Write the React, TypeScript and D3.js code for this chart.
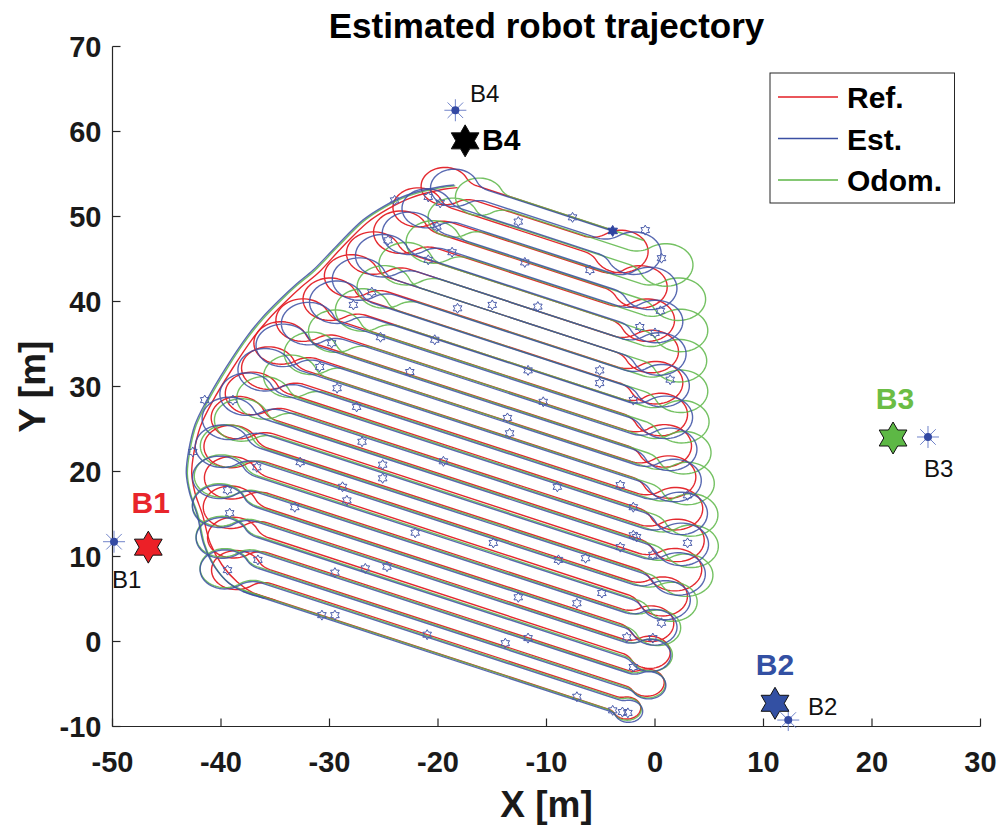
import React from 'react';
import * as d3 from 'd3';

const WIDTH = 999;
const HEIGHT = 825;
const PLOT = { left: 112.5, right: 980.5, top: 46.5, bottom: 726.5 };
const FONT = '"Liberation Sans", Arial, Helvetica, sans-serif';

const xTickValues = [-50, -40, -30, -20, -10, 0, 10, 20, 30];
const yTickValues = [-10, 0, 10, 20, 30, 40, 50, 60, 70];

const seriesNames = ['Ref.', 'Est.', 'Odom.'];
const seriesColors = ['#e31e24', '#3b4fa3', '#5cb646'];

// common heading of the straight passes (dy/dx)
const passSlope = -0.417;

// y of each pass at x = -20, and x where each pass ends on the left / right side
const refIntercept = [-1.4, 0.4, 2.0, 3.9, 5.7, 7.4, 9.1, 10.9, 12.8, 14.5, 16.2, 18.1, 19.8, 21.5, 23.4, 25.1, 26.8, 28.6, 30.3, 32.1, 33.9, 35.6, 37.4, 39.2, 40.9, 42.7, 44.5, 46.2, 48.0, 49.8, 51.5, 53.3, 55.1];
const refLeftX = [-37.0, -35.3, -35.5, -35.6, -35.6, -35.7, -35.7, -35.6, -35.7, -35.7, -35.6, -35.1, -34.9, -33.8, -33.7, -32.3, -32.1, -31.1, -31.0, -29.1, -29.0, -26.6, -26.5, -24.6, -24.5, -22.6, -22.5, -20.1, -20.0, -18.8, -18.7, -16.5, -16.4];
const refRightX = [-4.3, -3.5, -2.7, -2.5, -3.0, -2.9, -3.2, -3.0, -2.5, -2.3, -1.6, -1.5, -1.4, -1.4, -1.5, -1.6, -2.1, -2.2, -2.5, -2.6, -2.9, -3.0, -3.3, -3.4, -3.7, -3.8, -4.1, -4.2, -4.7, -4.9, -6.5, -6.6, -4.3];

const estIntercept = [-1.6, 0.1, 1.7, 3.6, 5.3, 7.1, 8.8, 10.6, 12.4, 14.2, 15.9, 17.7, 19.5, 21.2, 23.1, 24.8, 26.6, 28.4, 30.1, 31.9, 33.7, 35.5, 37.3, 39.1, 40.9, 42.7, 44.6, 46.4, 48.2, 50.0, 51.8, 53.6, 55.0];
const estLeftX = [-38.0, -36.3, -36.6, -36.5, -36.7, -36.7, -36.7, -36.6, -36.8, -36.5, -36.4, -35.9, -35.8, -34.3, -34.2, -32.6, -32.5, -30.9, -30.8, -28.6, -28.5, -26.0, -25.9, -23.9, -23.8, -21.8, -21.7, -19.3, -19.2, -18.0, -17.9, -15.5, -15.4];
const estRightX = [-4.2, -3.3, -2.5, -2.4, -2.9, -2.8, -2.9, -2.7, -2.2, -2.0, -1.3, -1.2, -1.0, -1.0, -1.1, -1.1, -1.6, -1.7, -2.0, -2.1, -2.4, -2.5, -2.7, -2.8, -3.0, -3.1, -3.3, -3.4, -3.8, -4.0, -5.3, -5.4, -3.9];

const odomIntercept = [-1.45, 0.25, 1.85, 3.75, 5.45, 7.25, 8.95, 10.75, 12.55, 14.35, 16.05, 17.85, 19.65, 21.35, 23.25, 24.95, 26.75, 28.55, 30.25, 32.05, 33.85, 35.6, 37.35, 39.15, 40.9, 42.7, 44.5, 46.3, 48.1, 49.9, 51.7, 53.4, 55.1];
const odomLeftX = [-38.0, -36.3, -36.6, -36.5, -36.7, -36.7, -36.7, -36.5, -36.6, -36.1, -35.9, -34.9, -34.6, -32.8, -32.6, -30.3, -30.1, -28.3, -28.2, -26.1, -26.0, -23.6, -23.5, -21.6, -21.5, -19.6, -19.5, -17.1, -17.0, -15.6, -15.5, -13.3, -13.2];
const odomRightX = [-4.3, -3.5, -2.6, -2.4, -2.8, -2.6, -2.6, -2.3, -1.6, -1.3, -0.6, -0.5, -0.1, -0.1, -0.1, -0.2, -0.4, -0.5, -0.7, -0.8, -0.9, -1.0, -1.0, -1.1, -1.1, -1.2, -1.0, -1.1, -1.2, -1.3, -2.4, -2.5, -1.0];

// loop radii of the turns on the left (pairs 1-2, 3-4, ...) and right (pairs 0-1, 2-3, ...)
const leftTurnRadius = [2.3, 2.4, 2.5, 2.5, 2.5, 2.5, 2.5, 2.5, 2.5, 2.5, 2.5, 2.5, 2.5, 2.5, 2.3, 2.2];
const rightTurnRadius = [1.3, 1.6, 1.9, 2.1, 2.3, 2.5, 2.5, 2.5, 2.5, 2.5, 2.5, 2.5, 2.5, 2.5, 2.5, 2.5];
const swerveRatio = 0.85;

// long run along the left edge of the area (top to bottom)
const refReturnX = [-18.2, -19.5, -22.5, -24.6, -26.5, -28.9, -31.0, -32.6, -34.1, -35.7, -37.1, -39.0, -40.8, -41.9, -42.5, -42.7, -42.4, -41.7, -41.0, -39.9, -38.5];
const refReturnY = [53.4, 53.2, 52.2, 50.9, 49.3, 46.3, 43.4, 41.7, 39.9, 37.8, 35.6, 32.0, 28.2, 25.3, 22.2, 19.8, 17.5, 14.9, 11.6, 9.0, 7.0];
const estReturnX = [-18.5, -19.8, -22.9, -25.0, -26.9, -29.3, -31.5, -33.1, -34.6, -36.2, -37.6, -39.5, -41.3, -42.4, -43.0, -43.2, -42.9, -42.2, -41.6, -40.6, -39.3];
const estReturnY = [53.7, 53.5, 52.5, 51.2, 49.6, 46.6, 43.7, 42.0, 40.2, 38.1, 35.9, 32.3, 28.4, 25.5, 22.3, 19.8, 17.5, 14.9, 11.5, 8.8, 6.9];
const odomReturnX = [-18.4, -19.7, -22.8, -24.9, -26.8, -29.2, -31.4, -33.0, -34.5, -36.1, -37.5, -39.4, -41.2, -42.3, -42.9, -43.1, -42.8, -42.1, -41.5, -40.5, -39.2];
const odomReturnY = [53.6, 53.4, 52.4, 51.1, 49.5, 46.5, 43.6, 41.9, 40.1, 38.0, 35.8, 32.2, 28.3, 25.4, 22.2, 19.7, 17.4, 14.8, 11.4, 8.7, 6.8];

// small hexagram markers along the estimated trajectory
const markerX = [-24.0, -20.9, -19.8, -20.1, -24.6, -20.9, -18.7, -12.6, -7.6, -0.9, 0.6, -12.0, -6.0, -26.1, -27.8, -18.2, -15.0, -10.8, 0.5, -1.4, 0.0, -29.8, -25.3, -20.3, -30.9, -22.6, -11.7, -5.1, -5.1, 1.4, -29.3, -27.5, -10.3, -13.6, -13.4, -2.0, -41.5, -38.9, -42.6, -27.0, -32.7, -25.1, -19.5, -25.1, -36.7, -28.8, -28.4, -39.4, -39.2, -33.2, -22.1, -36.6, -39.4, -26.7, -24.7, -29.5, -30.7, -29.5, -21.0, -9.0, -3.2, -2.0, -1.7, 3.0, 3.0, -3.2, -14.9, -8.9, -6.4, -0.2, -4.9, -7.2, -12.6, -2.6, -0.2, 0.6, -11.7, -13.8, -2.0, -3.9, -3.0, -2.5, -7.2, -2.0];
const markerY = [51.9, 52.3, 51.6, 48.8, 47.2, 44.9, 45.8, 49.4, 49.9, 48.4, 45.1, 44.6, 43.7, 41.1, 39.6, 39.2, 39.6, 39.4, 38.9, 37.0, 36.3, 35.1, 35.8, 35.5, 32.3, 31.7, 31.9, 31.9, 30.4, 30.8, 29.8, 27.6, 28.2, 26.3, 24.5, 28.4, 28.4, 28.4, 22.3, 23.5, 21.1, 20.8, 21.2, 19.2, 20.5, 18.2, 16.6, 17.8, 15.1, 15.8, 12.8, 9.6, 8.4, 8.6, 8.8, 8.1, 3.1, 3.1, 0.8, 18.2, 18.4, 15.8, 12.3, 17.2, 11.6, 11.1, 11.6, 9.6, 9.8, 10.2, 5.7, 4.5, 5.2, 0.5, 0.4, 2.2, 0.4, -0.2, -3.0, -8.1, -8.3, -8.4, -6.5, 12.5];

const endPointX = -3.9;
const endPointY = 48.3;

// beacons: true position (hexagram) and estimated position (asterisk)
const beaconNames = ['B1', 'B2', 'B3', 'B4'];
const beaconTrueX = [-46.7, 11.06, 21.94, -17.5];
const beaconTrueY = [11.1, -7.27, 23.94, 58.9];
const beaconEstX = [-49.86, 12.28, 25.16, -18.4];
const beaconEstY = [11.74, -9.24, 24.06, 62.5];
const beaconColors = ['#ec2027', '#3350a3', '#5db845', '#000000'];
const beaconLabelColors = ['#e8252b', '#3350a3', '#6bbd45', '#000000'];

type Pt = [number, number];

function turnPoints(E: Pt, S: Pt, d: Pt, R: number, r1: number): Pt[] {
  let n: Pt = [-d[1], d[0]];
  const rel: Pt = [S[0] - E[0], S[1] - E[1]];
  if (rel[0] * n[0] + rel[1] * n[1] < 0) n = [-n[0], -n[1]];
  const uS = rel[0] * d[0] + rel[1] * d[1];
  const vS = rel[0] * n[0] + rel[1] * n[1];
  const toW = (u: number, v: number): Pt => [E[0] + u * d[0] + v * n[0], E[1] + u * d[1] + v * n[1]];
  const A1: Pt = [0, -r1];
  const A2: Pt = [uS, vS + r1];
  const dx = A2[0] - A1[0];
  const dy = A2[1] - A1[1];
  const D = Math.hypot(dx, dy);
  const L = R + r1;
  const h = Math.sqrt(Math.max(L * L - (D * D) / 4, 0));
  let px = dy / D;
  let py = -dx / D;
  if (px < 0) { px = -px; py = -py; }
  const C: Pt = [(A1[0] + A2[0]) / 2 + h * px, (A1[1] + A2[1]) / 2 + h * py];
  const out: Pt[] = [];
  const th1 = Math.atan2(C[1] - A1[1], C[0] - A1[0]);
  const n1 = 12;
  for (let i = 1; i <= n1; i++) {
    const t = Math.PI / 2 + ((th1 - Math.PI / 2) * i) / n1;
    out.push(toW(A1[0] + r1 * Math.cos(t), A1[1] + r1 * Math.sin(t)));
  }
  const ph1 = Math.atan2(A1[1] - C[1], A1[0] - C[0]);
  let ph2 = Math.atan2(A2[1] - C[1], A2[0] - C[0]);
  if (ph2 < ph1) ph2 += 2 * Math.PI;
  const n2 = 44;
  for (let i = 1; i <= n2; i++) {
    const t = ph1 + ((ph2 - ph1) * i) / n2;
    out.push(toW(C[0] + R * Math.cos(t), C[1] + R * Math.sin(t)));
  }
  const th2 = Math.atan2(C[1] - A2[1], C[0] - A2[0]);
  for (let i = 1; i <= n1; i++) {
    const t = th2 + ((-Math.PI / 2 - th2) * i) / n1;
    out.push(toW(A2[0] + r1 * Math.cos(t), A2[1] + r1 * Math.sin(t)));
  }
  return out;
}

function buildTrajectory(intercept: number[], leftX: number[], rightX: number[]): Pt[] {
  const norm = Math.sqrt(1 + passSlope * passSlope);
  const toRight: Pt = [1 / norm, passSlope / norm];
  const toLeft: Pt = [-toRight[0], -toRight[1]];
  const at = (k: number, xv: number): Pt => [xv, intercept[k] + passSlope * (xv + 20)];
  const pts: Pt[] = [];
  const n = intercept.length;
  for (let k = 0; k < n; k++) {
    const goingRight = k % 2 === 0;
    const start = goingRight ? at(k, leftX[k]) : at(k, rightX[k]);
    const end = goingRight ? at(k, rightX[k]) : at(k, leftX[k]);
    if (k === 0) pts.push(start);
    pts.push(end);
    if (k < n - 1) {
      const nextStart = goingRight ? at(k + 1, rightX[k + 1]) : at(k + 1, leftX[k + 1]);
      const R = goingRight ? rightTurnRadius[k / 2] : leftTurnRadius[(k - 1) / 2];
      pts.push(...turnPoints(end, nextStart, goingRight ? toRight : toLeft, R, R * swerveRatio));
    }
  }
  return pts;
}

function hexagram(cx: number, cy: number, r: number): string {
  const pts: string[] = [];
  for (let i = 0; i < 12; i++) {
    const a = -Math.PI / 2 + (i * Math.PI) / 6;
    const rad = i % 2 === 0 ? r : r / Math.sqrt(3);
    pts.push(`${(cx + rad * Math.cos(a)).toFixed(2)},${(cy + rad * Math.sin(a)).toFixed(2)}`);
  }
  return 'M' + pts.join('L') + 'Z';
}

export default function App() {
  const x = d3.scaleLinear().domain([-50, 30]).range([PLOT.left, PLOT.right]);
  const y = d3.scaleLinear().domain([-10, 70]).range([PLOT.bottom, PLOT.top]);

  const series = [
    { intercept: refIntercept, leftX: refLeftX, rightX: refRightX, retX: refReturnX, retY: refReturnY },
    { intercept: estIntercept, leftX: estLeftX, rightX: estRightX, retX: estReturnX, retY: estReturnY },
    { intercept: odomIntercept, leftX: odomLeftX, rightX: odomRightX, retX: odomReturnX, retY: odomReturnY },
  ];

  const linear = d3.line<Pt>().x((p) => x(p[0])).y((p) => y(p[1]));
  const smooth = d3.line<Pt>().x((p) => x(p[0])).y((p) => y(p[1])).curve(d3.curveCatmullRom.alpha(0.5));

  const paths = series.map((s) => {
    const traj = buildTrajectory(s.intercept, s.leftX, s.rightX);
    const ret: Pt[] = s.retX.map((v, i) => [v, s.retY[i]] as Pt);
    const x0 = s.leftX[0];
    ret.push([x0, s.intercept[0] + passSlope * (x0 + 20)]);
    ret.push([x0 + 2, s.intercept[0] + passSlope * (x0 + 22)]);
    return { traj: linear(traj) || '', ret: smooth(ret) || '' };
  });

  const drawOrder = [0, 2, 1];

  return (
    <svg width={WIDTH} height={HEIGHT} style={{ position: 'absolute', left: 0, top: 0, background: '#fff' }} fontFamily={FONT}>
      <rect x={0} y={0} width={WIDTH} height={HEIGHT} fill="#fff" />
      {drawOrder.map((i) => (
        <g key={i} fill="none" stroke={seriesColors[i]} strokeWidth={1.4} strokeOpacity={i === 0 ? 0.95 : 0.85} strokeLinejoin="round">
          <path d={paths[i].ret} />
          <path d={paths[i].traj} />
        </g>
      ))}
      <g fill="none" stroke="#4a5cab" strokeWidth={1}>
        {markerX.map((mx, i) => (
          <path key={i} d={hexagram(x(mx), y(markerY[i]), 5)} />
        ))}
      </g>
      <path d={hexagram(x(endPointX), y(endPointY), 5.5)} fill="#2f43a0" stroke="#2f43a0" strokeWidth={1} />

      <g stroke="#262626" strokeWidth={1.2}>
        <line x1={PLOT.left} y1={PLOT.bottom} x2={PLOT.right} y2={PLOT.bottom} />
        <line x1={PLOT.left} y1={PLOT.top} x2={PLOT.left} y2={PLOT.bottom} />
        {xTickValues.map((t) => (
          <line key={'xt' + t} x1={x(t)} x2={x(t)} y1={PLOT.bottom} y2={PLOT.bottom - 8} />
        ))}
        {yTickValues.map((t) => (
          <line key={'yt' + t} x1={PLOT.left} x2={PLOT.left + 8} y1={y(t)} y2={y(t)} />
        ))}
      </g>
      <g fontSize={29} fontWeight="bold" fill="#1a1a1a">
        {xTickValues.map((t) => (
          <text key={'xl' + t} x={x(t)} y={PLOT.bottom + 45} textAnchor="middle">{t}</text>
        ))}
        {yTickValues.map((t) => (
          <text key={'yl' + t} x={PLOT.left - 11} y={y(t) + 10} textAnchor="end">{t}</text>
        ))}
      </g>
      <text x={(PLOT.left + PLOT.right) / 2} y={38} textAnchor="middle" fontSize={35} fontWeight="bold" fill="#000">Estimated robot trajectory</text>
      <text x={(PLOT.left + PLOT.right) / 2} y={817} textAnchor="middle" fontSize={37} fontWeight="bold" fill="#1a1a1a">X [m]</text>
      <text transform={`translate(45, ${(PLOT.top + PLOT.bottom) / 2}) rotate(-90)`} textAnchor="middle" fontSize={37} fontWeight="bold" fill="#1a1a1a">Y [m]</text>

      {beaconNames.map((b, i) => {
        const ex = x(beaconEstX[i]);
        const ey = y(beaconEstY[i]);
        return (
          <g key={b}>
            <g stroke="#7083c9" strokeWidth={1}>
              {d3.range(8).map((j) => (
                <line key={j} x1={ex} y1={ey} x2={ex + 11 * Math.cos((j * Math.PI) / 4)} y2={ey + 11 * Math.sin((j * Math.PI) / 4)} />
              ))}
            </g>
            <circle cx={ex} cy={ey} r={4} fill="#3349a3" />
            <path d={hexagram(x(beaconTrueX[i]), y(beaconTrueY[i]), 16)} fill={beaconColors[i]} stroke="#111" strokeWidth={1} />
          </g>
        );
      })}
      <g fontSize={30} fontWeight="bold">
        <text x={150.8} y={513} textAnchor="middle" fill={beaconLabelColors[0]}>B1</text>
        <text x={775} y={675} textAnchor="middle" fill={beaconLabelColors[1]}>B2</text>
        <text x={895} y={409} textAnchor="middle" fill={beaconLabelColors[2]}>B3</text>
        <text x={482} y={150} fill={beaconLabelColors[3]}>B4</text>
      </g>
      <g fontSize={24} fill="#111">
        <text x={112} y={588}>B1</text>
        <text x={808} y={715}>B2</text>
        <text x={924} y={477}>B3</text>
        <text x={470} y={102}>B4</text>
      </g>

      <rect x={770} y={73} width={184.5} height={130} fill="#fff" stroke="#262626" strokeWidth={1} />
      {seriesNames.map((name, i) => (
        <g key={name}>
          <line x1={778} x2={838} y1={97 + i * 41.5} y2={97 + i * 41.5} stroke={seriesColors[i]} strokeWidth={1.3} />
          <text x={847} y={108 + i * 41.5} fontSize={30} fontWeight="bold" fill="#000">{name}</text>
        </g>
      ))}
    </svg>
  );
}
